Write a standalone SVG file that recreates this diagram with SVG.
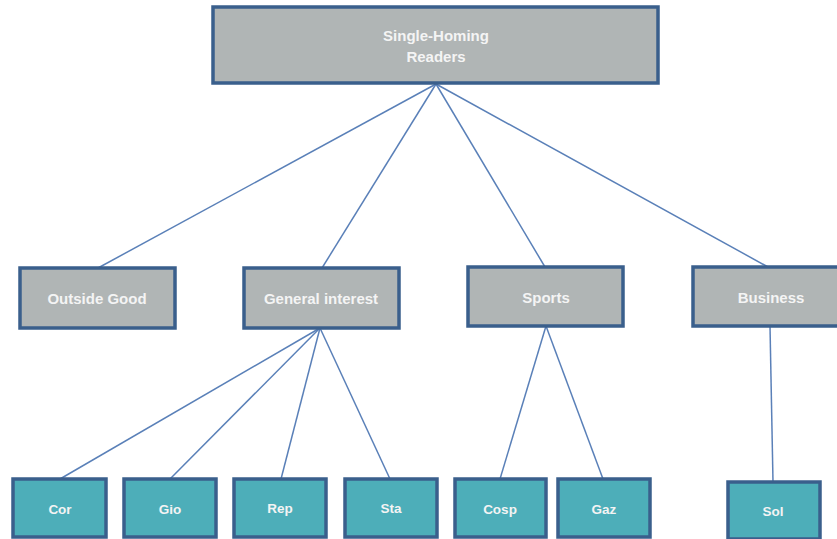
<svg xmlns="http://www.w3.org/2000/svg" width="837" height="539" viewBox="0 0 837 539">
<style>
.mid rect{fill:#b0b5b5;stroke:#3a5f8c;stroke-width:3.5}
.leaf rect{fill:#4daeb9;stroke:#3a5f8c;stroke-width:3.5}
text{font-family:"Liberation Sans",Arial,sans-serif;font-weight:bold;fill:#f4f4f4;text-anchor:middle;dominant-baseline:central}
.mid text{font-size:15px}
.leaf text{font-size:13.5px}
#edges line{stroke:#5a80b8;stroke-width:1.5}
</style>
<rect width="837" height="539" fill="#ffffff"/>
<g id="edges">
<line x1="436" y1="84" x2="98" y2="268"/>
<line x1="436" y1="84" x2="322" y2="268"/>
<line x1="436" y1="84" x2="545" y2="267"/>
<line x1="436" y1="84" x2="768" y2="267"/>
<line x1="320" y1="328" x2="60" y2="479"/>
<line x1="320" y1="328" x2="170" y2="479"/>
<line x1="320" y1="328" x2="281" y2="479"/>
<line x1="320" y1="328" x2="390" y2="479"/>
<line x1="546" y1="326" x2="500" y2="479"/>
<line x1="546" y1="326" x2="603" y2="479"/>
<line x1="770" y1="326" x2="773" y2="482"/>
</g>
<g id="root" class="mid"><rect x="213" y="7" width="445" height="76"/><text x="436" y="35">Single-Homing</text><text x="436" y="56">Readers</text></g>
<g id="outside" class="mid"><rect x="20" y="268" width="155" height="60"/><text x="97" y="298">Outside Good</text></g>
<g id="general" class="mid"><rect x="244" y="268" width="155" height="60"/><text x="321" y="298">General interest</text></g>
<g id="sports" class="mid"><rect x="468" y="267" width="155" height="59"/><text x="546" y="297">Sports</text></g>
<g id="business" class="mid"><rect x="693" y="267" width="155" height="59"/><text x="771" y="297">Business</text></g>
<g id="cor" class="leaf"><rect x="13" y="479" width="93" height="58"/><text x="60" y="509">Cor</text></g>
<g id="gio" class="leaf"><rect x="124" y="479" width="92" height="58"/><text x="170" y="509">Gio</text></g>
<g id="rep" class="leaf"><rect x="234" y="479" width="92" height="58"/><text x="280" y="508">Rep</text></g>
<g id="sta" class="leaf"><rect x="345" y="479" width="92" height="58"/><text x="391" y="508">Sta</text></g>
<g id="cosp" class="leaf"><rect x="455" y="479" width="91" height="58"/><text x="500" y="509">Cosp</text></g>
<g id="gaz" class="leaf"><rect x="558" y="479" width="92" height="58"/><text x="604" y="509">Gaz</text></g>
<g id="sol" class="leaf"><rect x="728" y="482" width="92" height="57"/><text x="773" y="511">Sol</text></g>
</svg>
